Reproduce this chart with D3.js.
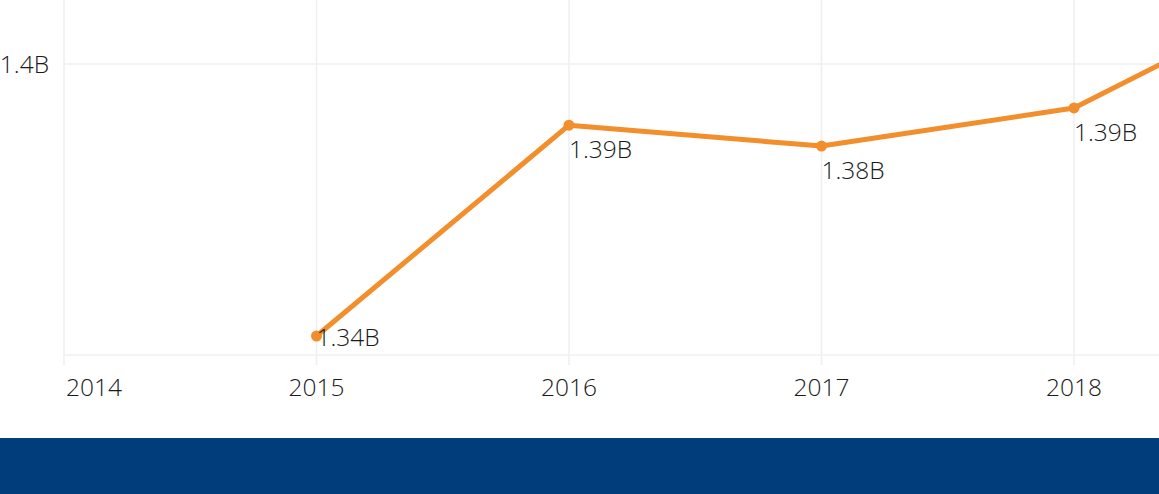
<!DOCTYPE html>
<html><head><meta charset="utf-8">
<script src="https://cdn.jsdelivr.net/npm/d3@7"></script>
<style>
html,body{margin:0;padding:0;background:#fff;overflow:hidden}
svg{display:block}
text{font-family:"Open Sans","Noto Sans",sans-serif;fill:#1a1a1a}
</style></head>
<body>
<svg id="c" width="1159" height="494"></svg>
<script>
const years = [2015, 2016, 2017, 2018, 2019];
const values = [1.340, 1.3865, 1.3819, 1.3903, 1.4185]; // billions
const xTicks = [2014, 2015, 2016, 2017, 2018];
const yTicks = [1.4];

const W = 1159, H = 494;
const svg = d3.select("#c");
const plotTop = 0, plotBottom = 355;

const x = d3.scaleLinear().domain([2014, 2018]).range([64, 1074]);
const y = d3.scaleLinear().domain([1.34, 1.4]).range([336, 64]);
const fmt = v => d3.format(".2f")(v) + "B";
const FS = 24.5;

const grid = svg.append("g");
grid.selectAll("line.v").data(xTicks.concat([2019])).join("line")
  .attr("x1", d => x(d)).attr("x2", d => x(d))
  .attr("y1", plotTop).attr("y2", plotBottom + 10)
  .attr("stroke", "#efefef").attr("stroke-width", 1.5);
grid.selectAll("line.h").data(yTicks).join("line")
  .attr("x1", x(2014)).attr("x2", W)
  .attr("y1", d => y(d)).attr("y2", d => y(d))
  .attr("stroke", "#efefef").attr("stroke-width", 1.5);
grid.append("line")
  .attr("x1", x(2014)).attr("x2", W)
  .attr("y1", plotBottom).attr("y2", plotBottom)
  .attr("stroke", "#f0f0f0").attr("stroke-width", 1.5);

svg.selectAll("text.yl").data(yTicks).join("text")
  .attr("x", 49).attr("y", d => y(d)).attr("dy", "0.35em")
  .attr("text-anchor", "end").attr("font-size", FS).attr("font-weight", 300)
  .text(d => d3.format(".1f")(d) + "B");

svg.selectAll("text.xl").data(xTicks).join("text")
  .attr("x", (d, i) => i === 0 ? x(d) + 2 : x(d))
  .attr("y", 396)
  .attr("text-anchor", (d, i) => i === 0 ? "start" : "middle")
  .attr("font-size", FS).attr("font-weight", 300)
  .text(d => d);

const data = years.map((yr, i) => ({yr, v: values[i]}));
const line = d3.line().x(d => x(d.yr)).y(d => y(d.v));
svg.append("path").datum(data)
  .attr("d", line).attr("fill", "none")
  .attr("stroke", "#f28e2b").attr("stroke-width", 5)
  .attr("stroke-linejoin", "round");
svg.selectAll("circle.p").data(data).join("circle")
  .attr("cx", d => x(d.yr)).attr("cy", d => y(d.v)).attr("r", 5.5)
  .attr("fill", "#f28e2b");

svg.selectAll("text.dl").data(data.filter(d => x(d.yr) < W - 60)).join("text")
  .attr("x", d => x(d.yr))
  .attr("y", d => {
    const py = y(d.v);
    return (py + 33 > plotBottom) ? py + 10 : py + 33;
  })
  .attr("text-anchor", "start").attr("font-size", FS).attr("font-weight", 300)
  .text(d => fmt(d.v));

svg.append("rect").attr("x", 0).attr("y", 438).attr("width", W).attr("height", H - 438)
  .attr("fill", "#013d7b");
</script>
</body></html>
